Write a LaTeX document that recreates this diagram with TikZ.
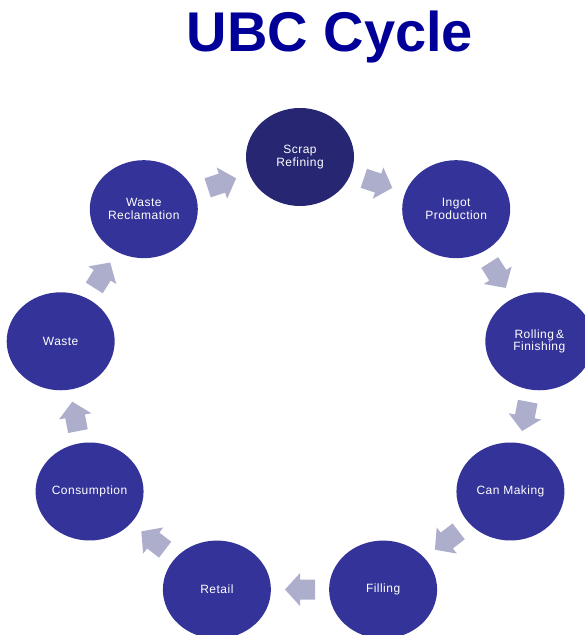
\documentclass[tikz,border=0pt]{standalone}
\usepackage{fontspec}
\setmainfont{Liberation Sans}
\newfontfamily\nodefont[LetterSpace=4]{Liberation Sans}
\usetikzlibrary{calc,shapes.geometric}
\definecolor{titleblue}{HTML}{000099}
\definecolor{nodeblue}{HTML}{333399}
\definecolor{darkblue}{HTML}{262673}
\definecolor{arrowgray}{HTML}{ADADCC}
\begin{document}
\begin{tikzpicture}[x=1pt,y=1pt,
  stage/.style={ellipse, fill=nodeblue, text=white, minimum width=108pt, minimum height=98pt,
    inner sep=0pt, align=center, font=\nodefont\fontsize{12}{12.5}\selectfont},
  titletext/.style={text=titleblue, font=\fontsize{56}{56}\selectfont\bfseries, inner sep=0pt}]
\useasboundingbox (0,0) rectangle (585,635);
\clip (0,0) rectangle (585,635);
\node[titletext, anchor=base] (title) at (330,583) {UBC Cycle};
\node[stage, fill=darkblue] (scrap) at ({300+243*cos(90)},{255+223*sin(90)}) {Scrap\\Refining};
\node[stage] (ingot) at ({300+243*cos(50)},{255+223*sin(50)}) {Ingot\\Production};
\node[stage] (rolling) at ({300+243*cos(10)},{255+223*sin(10)}) {Rolling\,\&\\Finishing};
\node[stage] (can) at ({300+243*cos(-30)},{255+223*sin(-30)}) {Can Making};
\node[stage] (filling) at ({300+243*cos(-70)},{255+223*sin(-70)}) {Filling};
\node[stage] (retail) at ({300+243*cos(-110)},{255+223*sin(-110)}) {Retail};
\node[stage] (consumption) at ({300+243*cos(-150)},{255+223*sin(-150)}) {Consumption};
\node[stage] (waste) at ({300+243*cos(170)},{255+223*sin(170)}) {Waste};
\node[stage] (reclaim) at ({300+243*cos(130)},{255+223*sin(130)}) {Waste\\Reclamation};
\foreach \a/\b in {scrap/ingot,ingot/rolling,rolling/can,can/filling,filling/retail,retail/consumption,consumption/waste,waste/reclaim,reclaim/scrap}{
  \pgfmathanglebetweenpoints{\pgfpointanchor{\a}{center}}{\pgfpointanchor{\b}{center}}
  \let\ang\pgfmathresult
  \fill[arrowgray, shift={($(\a)!0.5!(\b)$)}, rotate=\ang]
    (15,0) -- (0,16.5) -- (0,10) -- (-15,10) -- (-15,-10) -- (0,-10) -- (0,-16.5) -- cycle;
}
\end{tikzpicture}
\end{document}
